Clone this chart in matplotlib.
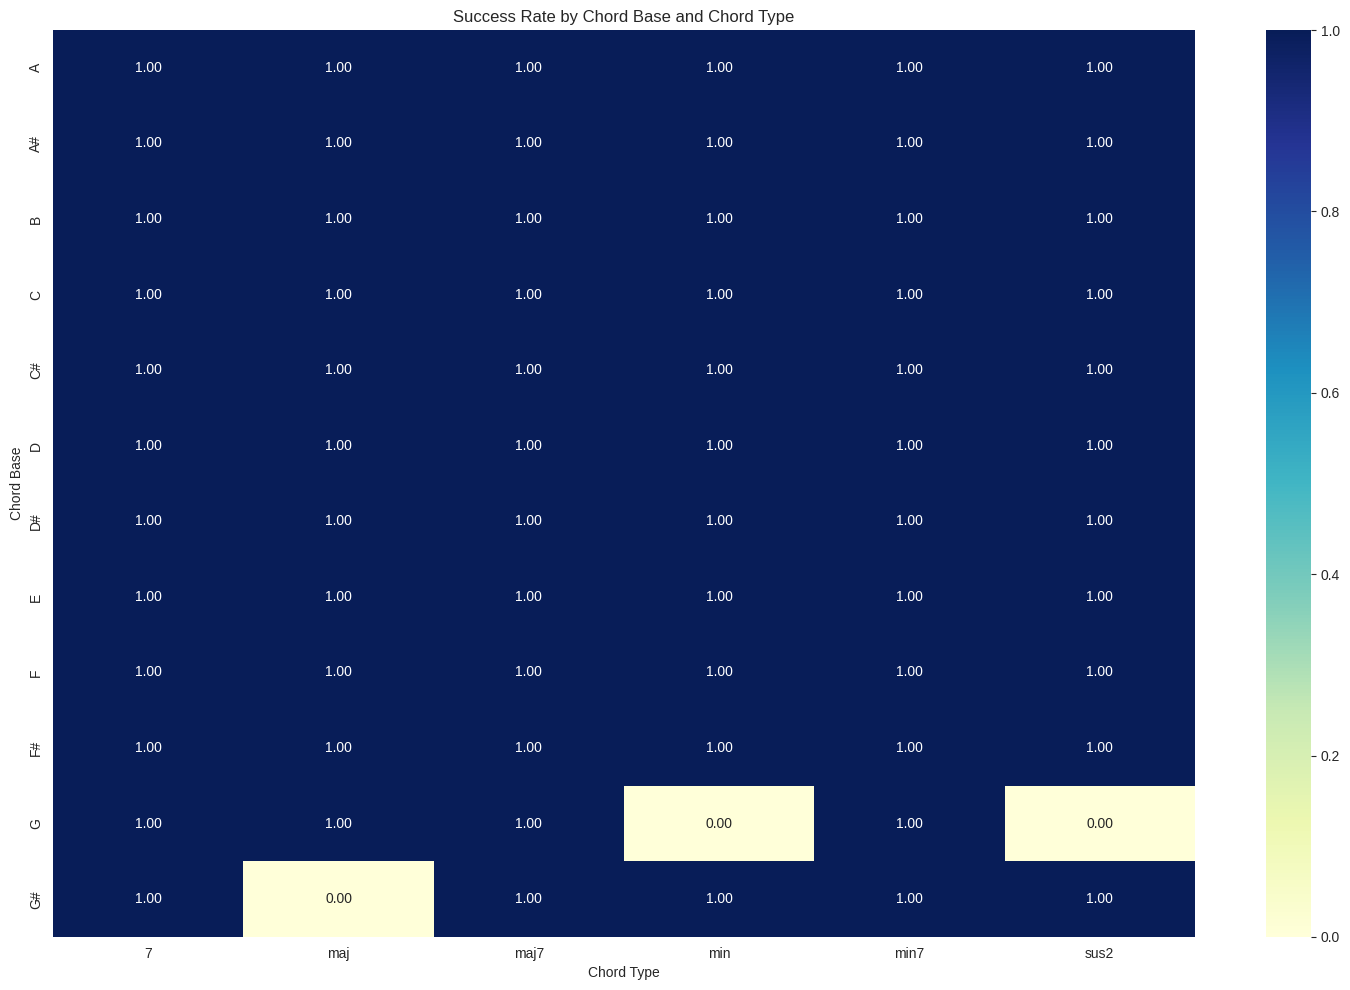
import matplotlib
matplotlib.use('Agg')
import matplotlib.pyplot as plt
import seaborn as sns
import pandas as pd

sns.set_style('whitegrid')
plt.rcParams['font.family'] = ['Liberation Sans', 'DejaVu Sans']

chord_bases = ['A', 'A#', 'B', 'C', 'C#', 'D', 'D#', 'E', 'F', 'F#', 'G', 'G#']
chord_types = ['7', 'maj', 'maj7', 'min', 'min7', 'sus2']

# success rate per chord base (rows) and chord type (columns)
success = [
    [1, 1, 1, 1, 1, 1],  # A
    [1, 1, 1, 1, 1, 1],  # A#
    [1, 1, 1, 1, 1, 1],  # B
    [1, 1, 1, 1, 1, 1],  # C
    [1, 1, 1, 1, 1, 1],  # C#
    [1, 1, 1, 1, 1, 1],  # D
    [1, 1, 1, 1, 1, 1],  # D#
    [1, 1, 1, 1, 1, 1],  # E
    [1, 1, 1, 1, 1, 1],  # F
    [1, 1, 1, 1, 1, 1],  # F#
    [1, 1, 1, 0, 1, 0],  # G
    [1, 0, 1, 1, 1, 1],  # G#
]

df = pd.DataFrame(success, index=chord_bases, columns=chord_types).astype(float)

W, H = 1350, 990
fig = plt.figure(figsize=(13.5, 9.9), dpi=100)
ax = fig.add_axes([53 / W, 1 - 937 / H, (1195 - 53) / W, (937 - 30) / H])
cax = fig.add_axes([1266 / W, 1 - 937 / H, 45 / W, (937 - 30) / H])

sns.heatmap(df, annot=True, fmt='.2f', cmap='YlGnBu', ax=ax, cbar_ax=cax)
ax.set_title('Success Rate by Chord Base and Chord Type')
ax.set_xlabel('Chord Type')
ax.set_ylabel('Chord Base')
fig.savefig('out.png', dpi=100)
